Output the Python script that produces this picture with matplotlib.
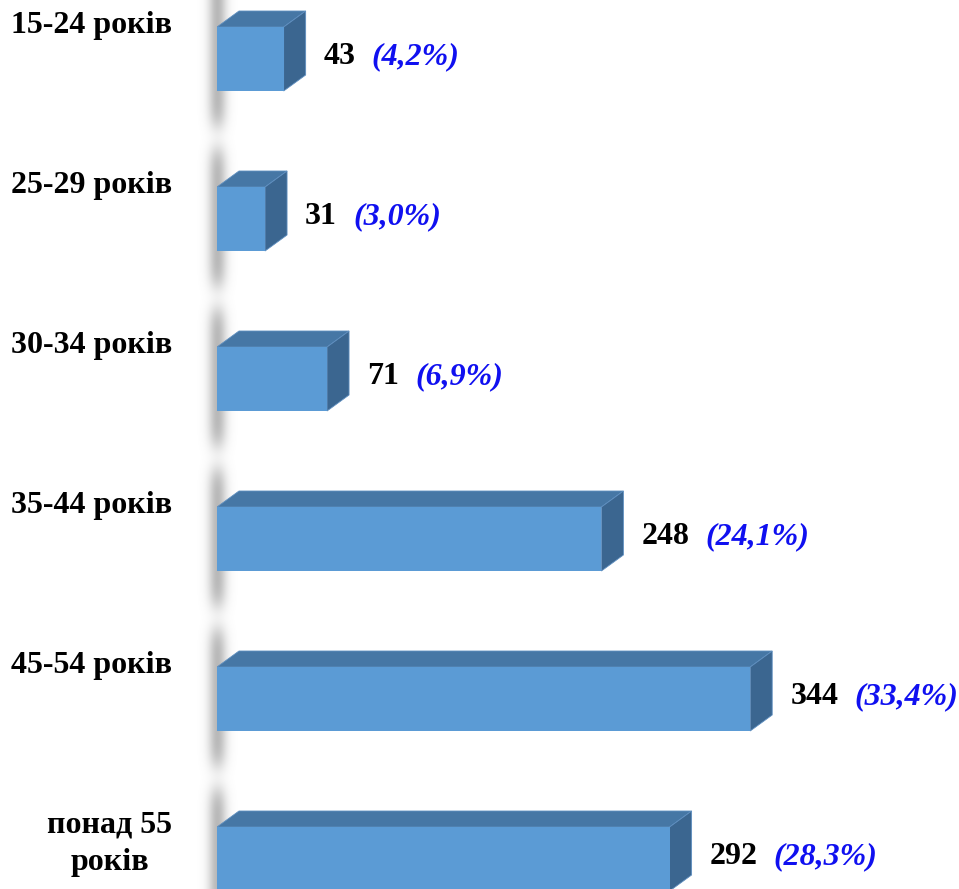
import matplotlib
matplotlib.use('Agg')
import matplotlib.pyplot as plt
import numpy as np
from matplotlib.patches import Polygon

categories = ['15-24 років', '25-29 років', '30-34 років', '35-44 років', '45-54 років', 'понад 55\nроків']
values = [43, 31, 71, 248, 344, 292]
percents = ['(4,2%)', '(3,0%)', '(6,9%)', '(24,1%)', '(33,4%)', '(28,3%)']

W, H = 959, 889
DPI = 100
PT = 72.0 / DPI  # points per pixel

FRONT = '#5B9BD5'
TOP = '#4677A5'
SIDE = '#3B6690'
BLUE = '#1010F0'
FONT = 'Liberation Serif'
FS = 23

fig = plt.figure(figsize=(W / DPI, H / DPI), dpi=DPI)
fig.patch.set_facecolor('white')

# background "wall" (blurred gray vertical band)
bg = fig.add_axes([0, 0, 1, 1], zorder=0)
bg.set_xlim(0, W)
bg.set_ylim(H, 0)
bg.axis('off')
xs = np.arange(W)
ys = np.arange(H)
hx = np.exp(-0.5 * ((xs - 217) / 6.5) ** 2)
vy = np.ones(H)
for k in range(6):
    g = 59 + 160 * k + 78
    vy *= 1 - 0.8 * np.exp(-0.5 * ((ys - g) / 13.0) ** 2)
alpha = np.outer(vy, hx) * 0.55
img = np.zeros((H, W, 4))
img[..., 0] = 0.5
img[..., 1] = 0.5
img[..., 2] = 0.5
img[..., 3] = alpha
bg.imshow(img, extent=(0, W, H, 0), interpolation='bilinear', aspect='auto')

# main axes
left_px = 217
scale = 1.55  # px per unit
row_px = 160
first_px = 59
ax = fig.add_axes([left_px / W, 0, (W - left_px) / W, 1], zorder=1)
ax.patch.set_alpha(0)
ax.set_xlim(0, (W - left_px) / scale)
ax.set_ylim((H - first_px) / row_px, -first_px / row_px)
ax.axis('off')

n = len(values)
ypos = np.arange(n)
bh = 0.4
ax.barh(ypos, values, height=bh, color=FRONT, zorder=3, linewidth=0)

DX, DY = 22, 16
inv = ax.transData.inverted()
for i, v in enumerate(values):
    top = ypos[i] - bh / 2
    bot = ypos[i] + bh / 2
    p = ax.transData.transform([(0, top), (v, top), (v, bot)])
    tl, tr, br = p
    off = np.array([DX, DY])
    top_face = np.array([tl, tr, tr + off, tl + off])
    side_face = np.array([tr, br, br + off, tr + off])
    ax.add_patch(Polygon(inv.transform(top_face), closed=True, facecolor=TOP,
                         edgecolor='#5F8FC0', linewidth=0.6, zorder=2))
    ax.add_patch(Polygon(inv.transform(side_face), closed=True, facecolor=SIDE,
                         edgecolor='#5F8FC0', linewidth=0.6, zorder=2))

    ax.annotate(categories[i], xy=(0, ypos[i]), xycoords='data',
                xytext=(-45 * PT, 48 * PT), textcoords='offset points',
                ha='right', va='top', multialignment='center',
                fontsize=FS, fontweight='bold', family=FONT, color='black',
                linespacing=1.35, annotation_clip=False)
    vt = ax.annotate(str(v), xy=(v, ypos[i]), xycoords='data',
                     xytext=(40 * PT, 2 * PT), textcoords='offset points',
                     ha='left', va='center', fontsize=FS, fontweight='bold',
                     family=FONT, color='black', annotation_clip=False)
    ax.annotate(percents[i], xy=(1, 0.5), xycoords=vt,
                xytext=(16 * PT, 0), textcoords='offset points',
                ha='left', va='center', fontsize=FS, fontweight='bold',
                fontstyle='italic', family=FONT, color=BLUE,
                annotation_clip=False)

fig.savefig('out.png', dpi=DPI)
